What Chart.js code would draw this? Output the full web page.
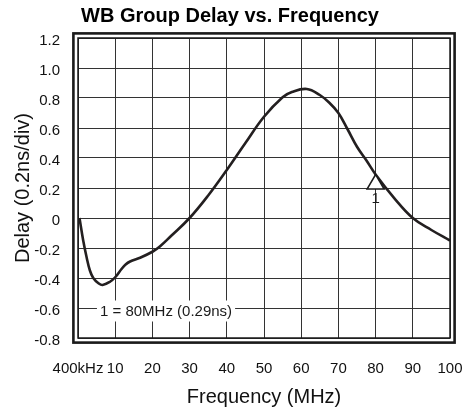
<!DOCTYPE html>
<html>
<head>
<meta charset="utf-8">
<script src="https://cdn.jsdelivr.net/npm/chart.js@4.4.1/dist/chart.umd.min.js"></script>
<style>
  body { margin: 0; background: #fff; }
  #wrap { width: 468px; height: 412px; }
</style>
</head>
<body>
<div id="wrap"><canvas id="myChart"></canvas></div>
<script>
// values
const freqMHz = [0.4, 1.4, 2.3, 3.2, 4.1, 5.5, 6.6, 8.6, 10, 11.7, 12.8, 14, 16.7, 20, 22, 25, 30,
  35, 40, 45, 50, 55, 57.5, 61.5, 65, 67.5, 70, 72.5, 75, 77.5, 80, 85, 90, 95, 100];
const delayNs = [0, -0.15, -0.26, -0.35, -0.40, -0.435, -0.447, -0.425, -0.395, -0.34, -0.31, -0.29, -0.265, -0.225, -0.19, -0.12, 0.0,
  0.15, 0.32, 0.5, 0.675, 0.805, 0.84, 0.86, 0.82, 0.77, 0.70, 0.59, 0.475, 0.385, 0.29, 0.133, 0.0, -0.08, -0.15];

const xTickLabels = ['400kHz', '10', '20', '30', '40', '50', '60', '70', '80', '90', '100'];
const yTickLabels = ['-0.8', '-0.6', '-0.4', '-0.2', '0', '0.2', '0.4', '0.6', '0.8', '1.0', '1.2'];

const markerFreq = [80];
const markerDelay = [0.29];
const markerNames = ['1'];
const noteText = '1 = 80MHz (0.29ns)';
const noteAt = [5.9, -0.62];

const ink = '#1a1a1a';
const font = 'Liberation Sans, Arial, sans-serif';

const extras = {
  id: 'extras',
  afterDatasetsDraw(chart) {
    const { ctx, chartArea: a, scales: { x, y } } = chart;
    ctx.save();
    // double frame
    ctx.strokeStyle = ink;
    ctx.lineWidth = 1.5;
    ctx.strokeRect(a.left, a.top, a.right - a.left, a.bottom - a.top);
    ctx.lineWidth = 2.6;
    ctx.strokeRect(a.left - 4.6, a.top - 4.6, a.right - a.left + 9.2, a.bottom - a.top + 9.2);

    // marker triangles
    ctx.font = '15px ' + font;
    ctx.textAlign = 'center';
    ctx.textBaseline = 'middle';
    markerFreq.forEach((f, i) => {
      const px = x.getPixelForValue(f);
      const py = y.getPixelForValue(markerDelay[i]);
      ctx.beginPath();
      ctx.moveTo(px, py);
      ctx.lineTo(px + 8.5, py + 14.5);
      ctx.lineTo(px - 8.5, py + 14.5);
      ctx.closePath();
      ctx.fillStyle = '#fff';
      ctx.fill();
      ctx.lineWidth = 1.5;
      ctx.stroke();
      ctx.fillStyle = ink;
      ctx.fillText(markerNames[i], px, py + 24.5);
    });

    // marker note
    const nx = x.getPixelForValue(noteAt[0]);
    const ny = y.getPixelForValue(noteAt[1]);
    const w = ctx.measureText(noteText).width;
    ctx.fillStyle = '#fff';
    ctx.fillRect(nx - 3, ny - 10.5, w + 6, 21);
    ctx.fillStyle = ink;
    ctx.textAlign = 'left';
    ctx.fillText(noteText, nx, ny + 0.5);
    ctx.restore();
  }
};

new Chart(document.getElementById('myChart'), {
  type: 'line',
  data: {
    datasets: [{
      data: freqMHz.map((f, i) => ({ x: f, y: delayNs[i] })),
      borderColor: '#231f20',
      borderWidth: 2.6,
      pointRadius: 0,
      tension: 0.4,
      fill: false
    }]
  },
  options: {
    responsive: true,
    maintainAspectRatio: false,
    animation: false,
    layout: { padding: { left: 10, right: 18, top: 0, bottom: 0 } },
    plugins: {
      legend: { display: false },
      tooltip: { enabled: false },
      title: {
        display: true,
        text: 'WB Group Delay vs. Frequency',
        color: '#000',
        font: { family: font, size: 20, weight: 'bold', lineHeight: 1.2 },
        padding: { top: 4.5, bottom: 9.5 }
      }
    },
    scales: {
      x: {
        type: 'linear',
        min: 0,
        max: 100,
        afterFit(s) { s.height = 74; s.paddingLeft = 0; s.paddingRight = 0; },
        grid: { color: '#333', lineWidth: 1, drawTicks: false },
        border: { display: false },
        ticks: {
          stepSize: 10,
          autoSkip: false,
          maxRotation: 0,
          padding: 22,
          color: '#111',
          font: { family: font, size: 15 },
          callback: (v, i) => xTickLabels[i]
        },
        title: {
          display: true,
          text: 'Frequency (MHz)',
          color: '#111',
          font: { family: font, size: 20, lineHeight: 1.2 },
          padding: { top: 0, bottom: 3 }
        }
      },
      y: {
        min: -0.8,
        max: 1.2,
        afterFit(s) { s.width = 68; },
        grid: { color: '#333', lineWidth: 1, drawTicks: false },
        border: { display: false },
        ticks: {
          stepSize: 0.2,
          padding: 18,
          labelOffset: 2.5,
          color: '#111',
          font: { family: font, size: 15 },
          callback: (v, i) => yTickLabels[i]
        },
        title: {
          display: true,
          text: 'Delay (0.2ns/div)',
          color: '#111',
          font: { family: font, size: 20, lineHeight: 1.2 },
          padding: { top: 1, bottom: 0 }
        }
      }
    }
  },
  plugins: [extras]
});
</script>
</body>
</html>
